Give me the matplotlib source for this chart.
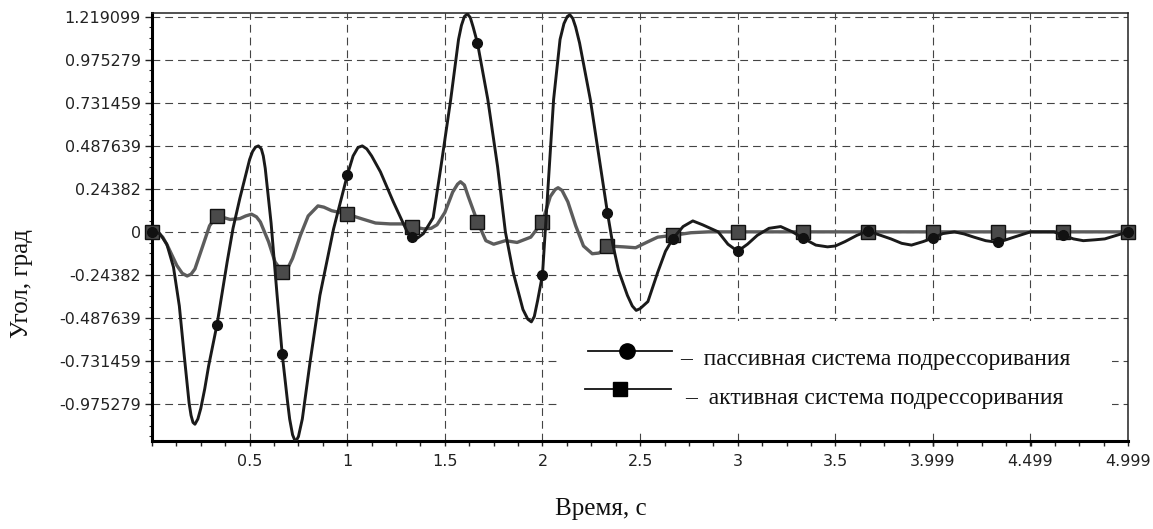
import matplotlib
matplotlib.use('Agg')
import matplotlib.pyplot as plt
from matplotlib.patches import Rectangle
from matplotlib.ticker import AutoMinorLocator

# Values
passive_t = [0, 0.04, 0.076, 0.11, 0.14, 0.165, 0.18, 0.19, 0.2, 0.21, 0.22, 0.235, 0.25,
             0.27, 0.29, 0.333, 0.385, 0.415, 0.45, 0.5, 0.515, 0.53, 0.545, 0.56, 0.57,
             0.58, 0.61, 0.64, 0.667, 0.694, 0.705, 0.72, 0.735, 0.75, 0.77, 0.81, 0.86,
             0.93, 1.0, 1.03, 1.055, 1.077, 1.1, 1.125, 1.17, 1.236, 1.307, 1.333, 1.36,
             1.39, 1.44, 1.48, 1.53, 1.57, 1.585, 1.6, 1.615, 1.63, 1.645, 1.667, 1.72, 1.77,
             1.81, 1.85, 1.9, 1.925, 1.943, 1.958, 1.975, 2.0, 2.015, 2.025, 2.057, 2.09,
             2.11, 2.127, 2.14, 2.155, 2.17, 2.19, 2.245, 2.297, 2.333, 2.36, 2.39, 2.435,
             2.46, 2.48, 2.5, 2.54, 2.59, 2.63, 2.667, 2.72, 2.77, 2.82, 2.9, 2.95, 3.0,
             3.05, 3.1, 3.16, 3.22, 3.28, 3.333, 3.4, 3.46, 3.5, 3.55, 3.61, 3.667, 3.72,
             3.785, 3.84, 3.89, 3.95, 4.0, 4.05, 4.11, 4.16, 4.21, 4.27, 4.333, 4.415, 4.5,
             4.62, 4.667, 4.72, 4.77, 4.83, 4.88, 4.94, 4.999]
passive_v = [0, -0.01, -0.07, -0.2, -0.42, -0.7, -0.86, -0.97, -1.04, -1.08, -1.09, -1.06,
             -1.0, -0.89, -0.76, -0.525, -0.17, 0.02, 0.19, 0.41, 0.455, 0.48, 0.487, 0.47,
             0.43, 0.36, 0.05, -0.35, -0.694, -0.96, -1.06, -1.15, -1.19, -1.16, -1.06,
             -0.735, -0.36, 0.017, 0.32, 0.43, 0.478, 0.487, 0.47, 0.43, 0.34, 0.17, 0.0,
             -0.03, -0.035, -0.01, 0.08, 0.37, 0.75, 1.09, 1.17, 1.22, 1.235, 1.215, 1.16,
             1.07, 0.75, 0.37, 0.0, -0.23, -0.44, -0.495, -0.51, -0.48, -0.39, -0.243, 0.017,
             0.186, 0.75, 1.09, 1.18, 1.22, 1.23, 1.21, 1.16, 1.07, 0.75, 0.37, 0.107, -0.07,
             -0.22, -0.36, -0.42, -0.445, -0.435, -0.395, -0.23, -0.11, -0.04, 0.03, 0.062,
             0.04, 0.0, -0.07, -0.11, -0.07, -0.02, 0.02, 0.03, 0.0, -0.035, -0.075, -0.085,
             -0.08, -0.055, -0.02, 0.005, -0.015, -0.04, -0.065, -0.075, -0.055, -0.035,
             -0.01, 0.0, -0.012, -0.03, -0.05, -0.06, -0.03, 0.0, 0.0, -0.02, -0.04, -0.05,
             -0.045, -0.04, -0.02, 0.0]

active_t = [0, 0.03, 0.055, 0.08, 0.127, 0.155, 0.18, 0.2, 0.22, 0.26, 0.295, 0.333, 0.37,
            0.4, 0.45, 0.48, 0.51, 0.535, 0.555, 0.597, 0.63, 0.667, 0.685, 0.72, 0.76, 0.8,
            0.85, 0.88, 0.92, 1.0, 1.077, 1.145, 1.22, 1.29, 1.333, 1.39, 1.43, 1.46, 1.5,
            1.54, 1.565, 1.58, 1.6, 1.62, 1.667, 1.71, 1.75, 1.81, 1.87, 1.94, 2.0, 2.04,
            2.065, 2.08, 2.1, 2.13, 2.17, 2.21, 2.255, 2.29, 2.333, 2.415, 2.477, 2.54, 2.59,
            2.667, 2.76, 2.85, 4.999]
active_v = [0, -0.005, -0.03, -0.08, -0.19, -0.235, -0.25, -0.24, -0.21, -0.08, 0.035, 0.09,
            0.08, 0.07, 0.075, 0.09, 0.1, 0.085, 0.056, -0.056, -0.17, -0.226, -0.23, -0.15,
            -0.02, 0.09, 0.147, 0.14, 0.12, 0.1, 0.073, 0.05, 0.045, 0.045, 0.03, 0.017, 0.02,
            0.04, 0.11, 0.225, 0.27, 0.284, 0.265, 0.2, 0.057, -0.05, -0.07, -0.05, -0.06,
            -0.03, 0.057, 0.2, 0.24, 0.25, 0.235, 0.17, 0.035, -0.08, -0.124, -0.12, -0.08,
            -0.085, -0.09, -0.056, -0.03, -0.02, -0.005, 0.0, 0.0]

marker_t = [0, 0.333, 0.667, 1.0, 1.333, 1.667, 2.0, 2.333, 2.667, 3.0, 3.333, 3.667, 4.0,
            4.333, 4.667, 4.999]
passive_marker_v = [0, -0.525, -0.694, 0.32, -0.03, 1.07, -0.243, 0.107, -0.04, -0.11,
                    -0.035, 0.005, -0.035, -0.06, -0.02, 0]
active_marker_v = [0, 0.09, -0.226, 0.1, 0.03, 0.057, 0.057, -0.08, -0.02, 0, 0, 0, 0, 0, 0, 0]

x_ticks = [0.5, 1, 1.5, 2, 2.5, 3, 3.5, 3.999, 4.499, 4.999]
x_tick_labels = ['0.5', '1', '1.5', '2', '2.5', '3', '3.5', '3.999', '4.499', '4.999']
y_ticks = [1.219099, 0.975279, 0.731459, 0.487639, 0.24382, 0, -0.24382, -0.487639,
           -0.731459, -0.975279]
y_tick_labels = ['1.219099', '0.975279', '0.731459', '0.487639', '0.24382', '0', '-0.24382',
                 '-0.487639', '-0.731459', '-0.975279']

X_LABEL = 'Время, с'
Y_LABEL = 'Угол, град'
PASSIVE_LABEL = '–  пассивная система подрессоривания'
ACTIVE_LABEL = '–  активная система подрессоривания'
SERIF = 'Liberation Serif'

fig = plt.figure(figsize=(11.53, 5.29), dpi=100)
ax = fig.add_axes([152 / 1153, 88 / 529, 976 / 1153, 428 / 529])

# curves
ax.plot(active_t, active_v, color='#5c5c5c', lw=2.4, zorder=3, solid_joinstyle='round')
ax.plot(marker_t, active_marker_v, ls='none', marker='s', ms=9.5, mfc='#4a4a4a',
        mec='#111111', mew=1.0, zorder=4, clip_on=False)
ax.plot(passive_t, passive_v, color='#1a1a1a', lw=2.1, zorder=5, solid_joinstyle='round')
ax.plot(marker_t, passive_marker_v, ls='none', marker='o', ms=7, mfc='#111111',
        mec='#111111', zorder=6, clip_on=False)

ax.set_xlim(0, 4.999)
ax.set_ylim(-1.185, 1.24)

ax.set_xticks(x_ticks)
ax.set_xticklabels(x_tick_labels)
ax.set_yticks(y_ticks)
ax.set_yticklabels(y_tick_labels)
ax.xaxis.set_minor_locator(AutoMinorLocator(4))
ax.yaxis.set_minor_locator(AutoMinorLocator(4))

ax.tick_params(axis='x', which='both', direction='out', length=3.5, width=1.0,
               colors='#222222', labelsize=11.5, pad=6)
ax.tick_params(axis='y', which='major', direction='out', length=5, width=1.0,
               colors='#222222', labelsize=11.5, pad=3)
ax.tick_params(axis='y', which='minor', direction='out', length=2.5, width=0.8,
               colors='#222222')

ax.set_axisbelow(True)
ax.grid(True, which='major', color='#444444', lw=0.8, ls=(0, (7, 4.5)))

for side in ['left', 'bottom']:
    ax.spines[side].set_linewidth(2.2)
    ax.spines[side].set_color('black')
for side in ['top', 'right']:
    ax.spines[side].set_linewidth(1.1)
    ax.spines[side].set_color('#222222')

# legend block: white patch over the grid, handles and texts
ax.add_patch(Rectangle((0.418, 0.026), 0.566, 0.254, transform=ax.transAxes,
                       facecolor='white', edgecolor='none', zorder=2))
ax.plot([0.4467, 0.5328], [0.2103, 0.2103], transform=ax.transAxes, color='#111111',
        lw=1.3, zorder=7)
ax.plot([0.4867], [0.2103], transform=ax.transAxes, marker='o', ms=11, color='#000000',
        zorder=8)
ax.plot([0.4436, 0.5318], [0.1215, 0.1215], transform=ax.transAxes, color='#111111',
        lw=1.3, zorder=7)
ax.plot([0.4795], [0.1215], transform=ax.transAxes, marker='s', ms=10, color='#000000',
        zorder=8)
ax.text(0.541, 0.1776, PASSIVE_LABEL, transform=ax.transAxes, family=SERIF, fontsize=17,
        ha='left', va='baseline', color='#111111', zorder=8)
ax.text(0.5461, 0.0864, ACTIVE_LABEL, transform=ax.transAxes, family=SERIF, fontsize=17,
        ha='left', va='baseline', color='#111111', zorder=8)

fig.text(22 / 1153, 1 - 284 / 529, Y_LABEL, rotation=90, ha='center', va='center',
         family=SERIF, fontsize=18, color='#111111')
fig.text(601 / 1153, 1 - 509 / 529, X_LABEL, ha='center', va='center',
         family=SERIF, fontsize=18, color='#111111')

fig.savefig('out.png', dpi=100)
